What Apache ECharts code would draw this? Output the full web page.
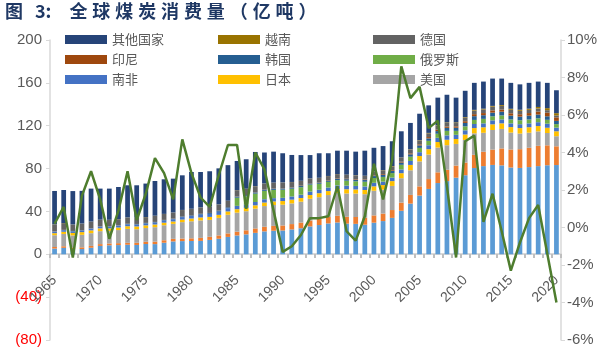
<!DOCTYPE html>
<html><head><meta charset="utf-8">
<script src="https://cdn.jsdelivr.net/npm/echarts@6/dist/echarts.min.js"></script>
<style>html,body{margin:0;padding:0;background:#fff}#c{width:600px;height:356px}</style>
</head><body><div id="c"></div>
<script>
const years = ['1965','1966','1967','1968','1969','1970','1971','1972','1973','1974','1975','1976','1977','1978','1979','1980','1981','1982','1983','1984','1985','1986','1987','1988','1989','1990','1991','1992','1993','1994','1995','1996','1997','1998','1999','2000','2001','2002','2003','2004','2005','2006','2007','2008','2009','2010','2011','2012','2013','2014','2015','2016','2017','2018','2019','2020'];

const china = [5.3,6.0,4.8,4.9,6.1,7.8,8.4,8.6,8.9,8.7,9.6,9.5,10.8,12.0,12.3,12.4,12.5,13.4,14.5,16.2,17.6,18.6,20.0,21.4,22.0,22.2,23.2,24.3,26.0,27.3,28.8,29.7,28.6,28.4,27.6,29.5,31.0,34.0,40.6,47.3,54.8,61.0,66.5,68.3,71.5,73.8,80.5,82.3,83.4,83.0,81.0,80.6,81.4,82.3,83.1,83.3];
const india = [1.5,1.5,1.6,1.6,1.7,1.7,1.7,1.8,1.8,2.0,2.1,2.3,2.3,2.4,2.4,2.5,2.8,2.9,3.1,3.3,3.5,3.8,4.1,4.3,4.5,4.7,5.0,5.3,5.5,5.7,6.0,6.2,6.4,6.4,6.5,6.8,7.0,7.3,7.6,8.1,8.6,9.2,10.0,10.6,11.3,11.8,12.3,13.4,14.3,15.8,16.8,17.5,18.0,18.9,18.6,17.5];
const usa = [11.0,11.5,11.2,11.7,11.9,12.1,11.7,12.2,13.0,12.7,12.8,13.5,14.0,14.0,15.3,15.9,16.3,15.8,16.4,17.4,17.8,17.8,18.5,19.3,19.5,19.4,19.3,19.5,20.3,20.3,20.5,21.3,21.8,21.9,22.0,23.0,22.3,22.5,22.8,23.0,23.3,22.9,23.1,22.9,20.2,21.1,20.1,17.7,18.3,18.2,15.8,14.6,14.1,13.5,11.5,9.4];
const japan = [1.9,2.0,2.3,2.5,2.6,2.6,2.4,2.4,2.5,2.6,2.5,2.5,2.4,2.2,2.4,2.6,2.8,2.8,2.8,3.1,3.2,3.1,3.1,3.3,3.3,3.4,3.5,3.4,3.5,3.7,3.7,3.8,3.9,3.8,3.9,4.1,4.3,4.5,4.7,5.0,5.0,5.0,5.2,5.1,4.6,5.1,4.9,5.1,5.3,5.2,5.1,5.1,5.1,5.0,4.9,4.6];
const southAfrica = [1.4,1.4,1.5,1.5,1.6,1.6,1.7,1.7,1.8,1.8,1.8,1.9,2.0,2.1,2.3,2.4,2.6,2.8,2.9,3.0,3.1,3.1,3.1,3.1,3.1,3.0,3.0,3.1,3.2,3.2,3.3,3.3,3.4,3.3,3.3,3.3,3.2,3.3,3.5,3.7,3.6,3.7,3.9,4.1,3.9,3.9,3.8,3.7,3.7,3.7,3.5,3.6,3.6,3.6,3.8,3.4];
const russia = [0,0,0,0,0,0,0,0,0,0,0,0,0,0,0,0,0,0,0,0,7.6,7.7,7.8,7.8,7.7,7.6,7.2,7.0,6.5,5.6,5.3,4.9,4.6,4.3,4.4,4.5,4.4,4.2,4.3,4.0,4.0,4.1,3.8,4.2,3.7,3.7,3.8,4.2,3.8,3.7,3.7,3.7,3.6,3.6,3.6,3.3];
const korea = [0.2,0.3,0.3,0.3,0.3,0.3,0.3,0.3,0.4,0.4,0.4,0.4,0.5,0.5,0.6,0.6,0.7,0.8,0.9,0.9,1.0,1.1,1.1,1.1,1.1,1.1,1.1,1.1,1.2,1.2,1.2,1.4,1.4,1.5,1.6,1.8,1.9,2.0,2.1,2.2,2.3,2.3,2.5,2.8,2.9,3.2,3.5,3.4,3.4,3.5,3.5,3.4,3.6,3.5,3.3,3.0];
const indonesia = [0.1,0.1,0.1,0.1,0.1,0.1,0.1,0.1,0.1,0.1,0.1,0.1,0.1,0.1,0.1,0.1,0.1,0.1,0.1,0.1,0.1,0.1,0.1,0.1,0.1,0.2,0.2,0.3,0.3,0.3,0.4,0.4,0.4,0.5,0.5,0.6,0.7,0.7,0.8,0.9,1.0,1.2,1.3,1.2,1.3,1.6,1.9,2.0,2.1,2.0,2.2,2.2,2.4,2.8,3.4,3.3];
const germany = [6.5,6.3,5.9,6.0,6.1,6.0,5.8,5.6,5.8,5.7,5.4,5.7,5.5,5.6,5.9,5.9,5.9,5.8,5.8,5.9,5.9,5.8,5.7,5.6,5.5,5.4,4.9,4.5,4.2,4.0,3.8,3.8,3.6,3.5,3.3,3.5,3.6,3.6,3.6,3.5,3.4,3.5,3.6,3.4,3.1,3.2,3.3,3.4,3.5,3.4,3.3,3.2,3.0,2.9,2.3,1.8];
const vietnam = [0.1,0.1,0.1,0.1,0.1,0.1,0.1,0.1,0.1,0.1,0.1,0.1,0.1,0.1,0.1,0.1,0.1,0.1,0.1,0.1,0.1,0.1,0.1,0.1,0.1,0.1,0.1,0.1,0.1,0.1,0.1,0.1,0.2,0.2,0.2,0.2,0.2,0.3,0.3,0.3,0.4,0.4,0.5,0.5,0.6,0.6,0.7,0.7,0.7,0.8,0.9,1.0,1.1,1.4,1.9,2.1];
const others = [31.1,30.8,31.2,30.5,30.8,29.0,29.1,30.0,30.0,30.3,31.2,32.4,32.3,31.6,32.3,34.3,33.0,33.0,33.6,33.2,27.2,27.5,31.9,28.9,28.9,27.2,25.2,24.0,21.8,22.9,21.2,21.8,22.4,22.0,23.4,22.1,22.4,23.1,24.5,24.6,24.8,25.7,25.8,25.8,23.1,24.6,25.2,25.3,25.5,24.7,24.2,23.7,24.1,23.7,23.6,21.4];
const growthPct = [0.2,1.1,-1.6,1.7,3.0,1.5,-0.6,0.9,3.0,0.4,1.8,3.7,2.9,1.5,4.7,2.9,1.6,1.1,2.8,4.4,4.4,1.0,4.0,3.1,0.9,-1.3,-1.0,-0.4,0.5,0.5,0.6,2.2,-0.2,-0.7,0.6,3.4,1.5,3.6,8.6,6.9,7.5,5.3,5.7,2.2,-1.6,4.6,4.9,0.3,1.8,-0.2,-2.3,-0.8,0.5,1.2,-1.4,-4.0];

const leftAxis = {min: -80, max: 200, interval: 40};
const rightAxis = {min: -6, max: 10, interval: 2};
const titleFig = '图';
const titleNum = '3:';
const titleMain = '全球煤炭消费量（亿吨）';

const stackSeries = [
  ['中国', china, '#5B9BD5'],
  ['印度', india, '#ED7D31'],
  ['美国', usa, '#A5A5A5'],
  ['日本', japan, '#FFC000'],
  ['南非', southAfrica, '#4472C4'],
  ['俄罗斯', russia, '#70AD47'],
  ['韩国', korea, '#255E91'],
  ['印尼', indonesia, '#9E480E'],
  ['德国', germany, '#636363'],
  ['越南', vietnam, '#997300'],
  ['其他国家', others, '#264478']
];

const numFont = "'Liberation Sans Narrow','Arial Narrow','Liberation Sans',sans-serif";
const cjkFont = "'Noto Sans CJK SC',sans-serif";

const series = stackSeries.map(([name, data, color]) => ({
  name, type: 'bar', stack: 'total', data, barWidth: '52%',
  itemStyle: {color}, emphasis: {disabled: true}, animation: false
}));
series.push({
  name: '增速', type: 'line', yAxisIndex: 1, data: growthPct, symbol: 'none',
  lineStyle: {color: '#4E7D2E', width: 2.5}, itemStyle: {color: '#4E7D2E'},
  z: 5, animation: false
});

function legendCol(left, names) {
  return {
    left, top: 33, orient: 'vertical', padding: 0, itemWidth: 42, itemHeight: 9,
    itemGap: 7, icon: 'rect', selectedMode: false, data: names,
    textStyle: {fontSize: 13, lineHeight: 13, color: '#595959', fontFamily: cjkFont}
  };
}

const gridTop = 40, gridBottom = 16, plotH = 356 - gridTop - gridBottom;
const zeroOffset = -Math.round(plotH * (0 - leftAxis.min) / (leftAxis.max - leftAxis.min));

const titleStyle = {fontSize: 18, fontWeight: 'bold', color: '#1F3864', fontFamily: cjkFont};
const titleText = '{g|' + titleFig + '}{n|' + titleNum + '}' +
  titleMain.split('').map(ch => '{c|' + ch + '}').join('');

const chart = echarts.init(document.getElementById('c'), null, {renderer: 'canvas'});
chart.setOption({
  backgroundColor: '#fff',
  animation: false,
  title: {
    text: titleText, left: 5, top: 2, padding: 0,
    textStyle: Object.assign({}, titleStyle, {
      rich: {
        g: Object.assign({}, titleStyle, {padding: [0, 12, 0, 0]}),
        n: Object.assign({}, titleStyle, {padding: [0, 18, 0, 0]}),
        c: Object.assign({}, titleStyle, {padding: [0, 4.9, 0, 0]})
      }
    })
  },
  legend: [
    legendCol(65, ['其他国家', '印尼', '南非']),
    legendCol(218, ['越南', '韩国', '日本']),
    legendCol(373, ['德国', '俄罗斯', '美国'])
  ],
  grid: {left: 50, right: 39, top: gridTop, bottom: gridBottom, containLabel: false, outerBoundsMode: 'none'},
  xAxis: {
    type: 'category', data: years, boundaryGap: true, offset: zeroOffset,
    axisLine: {onZero: false, lineStyle: {color: '#D9D9D9', width: 2}},
    axisTick: {show: true, interval: 0, length: 4, alignWithLabel: false, lineStyle: {color: '#BFBFBF', width: 2}},
    axisLabel: {interval: 4, rotate: 45, margin: 24, fontSize: 14, color: '#595959', fontFamily: numFont},
    splitLine: {show: false}
  },
  yAxis: [
    {
      type: 'value', position: 'left', min: leftAxis.min, max: leftAxis.max, interval: leftAxis.interval,
      axisLine: {show: true, lineStyle: {color: '#D9D9D9', width: 1.5}},
      axisTick: {show: true, length: 4, lineStyle: {color: '#D9D9D9'}},
      splitLine: {show: false},
      axisLabel: {
        margin: 8, fontSize: 15, color: '#595959', fontFamily: numFont,
        formatter: v => v < 0 ? '{r|(' + (-v) + ')}' : String(v),
        rich: {r: {color: '#FF0000', fontSize: 15, fontFamily: numFont}}
      }
    },
    {
      type: 'value', position: 'right', min: rightAxis.min, max: rightAxis.max, interval: rightAxis.interval,
      axisLine: {show: true, lineStyle: {color: '#D9D9D9', width: 1.5}},
      axisTick: {show: true, length: 4, lineStyle: {color: '#D9D9D9'}},
      splitLine: {show: false},
      axisLabel: {margin: 6, fontSize: 15, color: '#595959', fontFamily: numFont, formatter: '{value}%'}
    }
  ],
  series
});
</script></body></html>
